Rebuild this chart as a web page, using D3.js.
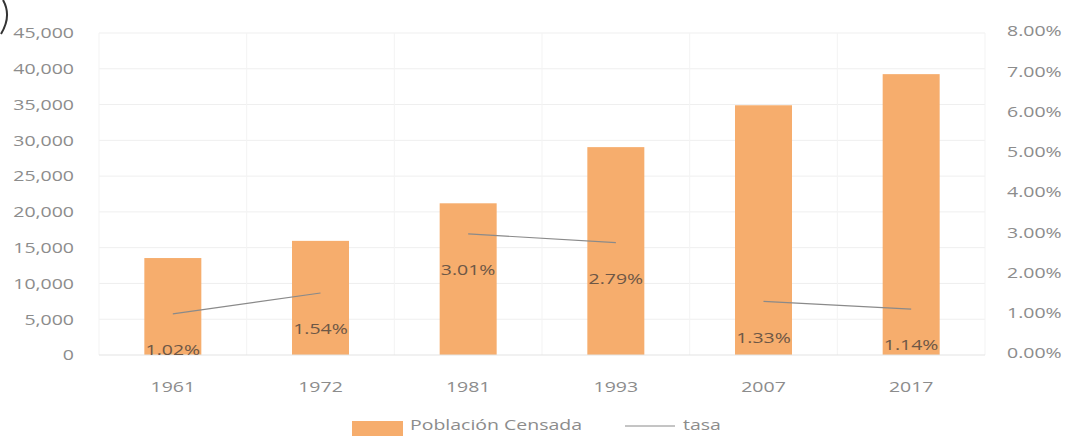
<!DOCTYPE html>
<html>
<head>
<meta charset="utf-8">
<script src="https://cdn.jsdelivr.net/npm/d3@7"></script>
<style>
  html, body { margin: 0; padding: 0; background: #fff; overflow: hidden; }
  svg { display: block; }
  text { font-family: "Open Sans", sans-serif; }
</style>
</head>
<body>
<div id="chart"></div>
<script>
// data
var years = ["1961", "1972", "1981", "1993", "2007", "2017"];
var poblacion = [13550, 15950, 21200, 29050, 34900, 39250];
var tasa = [1.02, 1.54, 3.01, 2.79, 1.33, 1.14];
// the tasa line is drawn in separate pieces in the original
var tramo = [1, 1, 2, 2, 3, 3];
var leftTicks = [0, 5000, 10000, 15000, 20000, 25000, 30000, 35000, 40000, 45000];
var rightTicks = [0, 1, 2, 3, 4, 5, 6, 7, 8];

var width = 1067;
var height = 436;
var sx = 1.3; // the picture is stretched sideways, so draw in a narrower box
var vw = width / sx;

var plot = {left: 99 / sx, right: 985 / sx, top: 33, bottom: 355};

var svg = d3.select("#chart")
    .append("svg")
      .attr("width", width)
      .attr("height", height)
      .attr("viewBox", "0 0 " + vw + " " + height)
      .attr("preserveAspectRatio", "none");

var xScale = d3.scaleBand().domain(years)
    .range([plot.left, plot.right])
    .paddingInner(0.614).paddingOuter(0.307);
var yLeft = d3.scaleLinear().domain([0, 45000]).range([plot.bottom, plot.top]);
var yRight = d3.scaleLinear().domain([0, 8]).range([plot.bottom, plot.top]);

var step = xScale.step();
var fmt = d3.format(",");
function cx(i) { return xScale(years[i]) + xScale.bandwidth() / 2; }

// gridlines
svg.append("g")
    .selectAll("line")
    .data(leftTicks.slice(1))
    .enter().append("line")
      .attr("x1", plot.left).attr("x2", plot.right)
      .attr("y1", function(d) { return yLeft(d); })
      .attr("y2", function(d) { return yLeft(d); })
      .attr("stroke", "#efefef")
      .attr("vector-effect", "non-scaling-stroke");

svg.append("g")
    .selectAll("line")
    .data(years)
    .enter().append("line")
      .attr("x1", function(d) { return xScale(d) - (step - xScale.bandwidth()) / 2; })
      .attr("x2", function(d) { return xScale(d) - (step - xScale.bandwidth()) / 2; })
      .attr("y1", plot.top).attr("y2", plot.bottom)
      .attr("stroke", "#f3f3f3")
      .attr("vector-effect", "non-scaling-stroke");

svg.append("line")
    .attr("x1", plot.right).attr("x2", plot.right)
    .attr("y1", plot.top).attr("y2", plot.bottom)
    .attr("stroke", "#f3f3f3")
    .attr("vector-effect", "non-scaling-stroke");

// bars
svg.append("g")
    .selectAll("rect")
    .data(years)
    .enter().append("rect")
      .attr("x", function(d) { return xScale(d); })
      .attr("width", xScale.bandwidth())
      .attr("y", function(d, i) { return yLeft(poblacion[i]); })
      .attr("height", function(d, i) { return plot.bottom - yLeft(poblacion[i]); })
      .attr("fill", "#f6ad6d");

// baseline
svg.append("line")
    .attr("x1", plot.left).attr("x2", plot.right)
    .attr("y1", plot.bottom).attr("y2", plot.bottom)
    .attr("stroke", "#e3e3e3")
    .attr("vector-effect", "non-scaling-stroke");

// tasa line, one path per piece
var valueline = d3.line()
    .x(function(d) { return cx(d); })
    .y(function(d) { return yRight(tasa[d]); });

var piezas = d3.groups(d3.range(tasa.length), function(i) { return tramo[i]; });

svg.append("g")
    .selectAll("path")
    .data(piezas)
    .enter().append("path")
      .attr("d", function(p) { return valueline(p[1]); })
      .attr("fill", "none")
      .attr("stroke", "#8a8a8a")
      .attr("stroke-width", 1.2)
      .attr("vector-effect", "non-scaling-stroke");

// data labels
svg.append("g")
    .selectAll("text")
    .data(tasa)
    .enter().append("text")
      .attr("x", function(d, i) { return cx(i); })
      .attr("y", function(d) { return yRight(d) + 36; })
      .attr("dy", "0.35em")
      .attr("text-anchor", "middle")
      .attr("font-size", 15)
      .attr("fill", "#6d5746")
      .text(function(d) { return d.toFixed(2) + "%"; });

// left axis
var yAxisL = d3.axisLeft(yLeft).tickValues(leftTicks).tickSize(0).tickPadding(0)
    .tickFormat(fmt);
var gL = svg.append("g")
    .attr("transform", "translate(" + (74 / sx) + ",0)")
    .call(yAxisL);
gL.select(".domain").remove();
gL.selectAll("text").attr("font-size", 15).attr("fill", "#8c8c8c")
    .attr("font-family", "Open Sans, sans-serif");

// right axis
var yAxisR = d3.axisRight(yRight).tickValues(rightTicks).tickSize(0).tickPadding(0)
    .tickFormat(function(d) { return d.toFixed(2) + "%"; });
var gR = svg.append("g")
    .attr("transform", "translate(" + (1007 / sx) + ",-2)")
    .call(yAxisR);
gR.select(".domain").remove();
gR.selectAll("text").attr("font-size", 15).attr("fill", "#8c8c8c")
    .attr("font-family", "Open Sans, sans-serif");

// x axis
var xAxis = d3.axisBottom(xScale).tickSize(0).tickPadding(0);
var gX = svg.append("g")
    .attr("transform", "translate(0,381)")
    .call(xAxis);
gX.select(".domain").remove();
gX.selectAll("text").attr("font-size", 15).attr("fill", "#8c8c8c")
    .attr("font-family", "Open Sans, sans-serif");

// legend
var legend = svg.append("g");
legend.append("rect")
    .attr("x", 352 / sx).attr("y", 421)
    .attr("width", 51 / sx).attr("height", 16)
    .attr("fill", "#f6ad6d");
legend.append("text")
    .attr("x", 410 / sx).attr("y", 425).attr("dy", "0.35em")
    .attr("font-size", 15).attr("fill", "#8c8c8c")
    .text("Población Censada");
legend.append("line")
    .attr("x1", 625 / sx).attr("x2", 675 / sx)
    .attr("y1", 426).attr("y2", 426)
    .attr("stroke", "#8a8a8a")
    .attr("vector-effect", "non-scaling-stroke");
legend.append("text")
    .attr("x", 683 / sx).attr("y", 425).attr("dy", "0.35em")
    .attr("font-size", 15).attr("fill", "#8c8c8c")
    .text("tasa");

// pen mark in the top left corner of the photo
svg.append("path")
    .attr("d", "M" + (3 / sx) + ",0 Q" + (12 / sx) + ",16 " + (1 / sx) + ",34")
    .attr("fill", "none")
    .attr("stroke", "#333")
    .attr("stroke-width", 2)
    .attr("vector-effect", "non-scaling-stroke");
</script>
</body>
</html>
